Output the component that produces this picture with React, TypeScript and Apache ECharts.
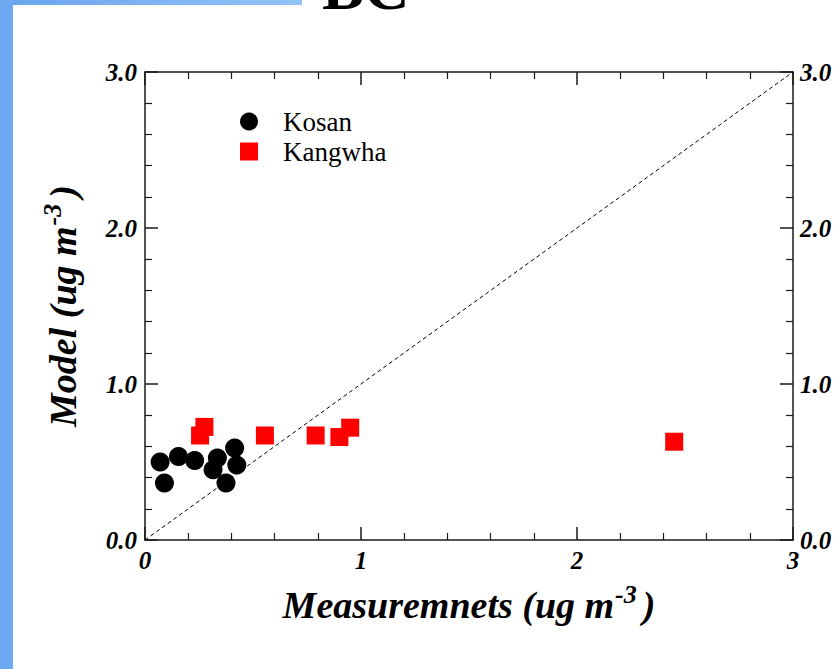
import React, { useEffect, useRef } from "react";
import * as echarts from "echarts";

// Kosan (black circles)
const kosanX = [0.07, 0.09, 0.155, 0.23, 0.335, 0.315, 0.375, 0.415, 0.425];
const kosanY = [0.5, 0.365, 0.535, 0.51, 0.525, 0.45, 0.365, 0.59, 0.48];
// Kangwha (red squares)
const kangwhaX = [0.255, 0.275, 0.555, 0.79, 0.9, 0.95, 2.45];
const kangwhaY = [0.67, 0.725, 0.67, 0.67, 0.66, 0.72, 0.63];
// 1:1 reference line
const oneToOneX = [0, 3];
const oneToOneY = [0, 3];
// tick labels
const xTickLabels = ["0", "1", "2", "3"];
const yTickLabels = ["0.0", "1.0", "2.0", "3.0"];
const seriesNames = ["Kosan", "Kangwha"];

const FONT = "'Liberation Serif', 'Times New Roman', serif";
const AXIS_COLOR = "#1a1a1a";

const tickLabelStyle = {
  fontFamily: FONT,
  fontSize: 25,
  fontWeight: "bold",
  fontStyle: "italic",
  color: "#000",
};

const titleRich = {
  t: {
    fontFamily: FONT,
    fontSize: 38,
    fontWeight: "bold",
    fontStyle: "italic",
    color: "#000",
    lineHeight: 48,
  },
  s: {
    fontFamily: FONT,
    fontSize: 26,
    fontWeight: "bold",
    fontStyle: "italic",
    color: "#000",
    lineHeight: 24,
    verticalAlign: "top",
    padding: [0, 6, 0, 1],
  },
};

function axisBase(extra: any) {
  return {
    type: "value",
    min: 0,
    max: 3,
    interval: 1,
    axisLine: { show: true, onZero: false, lineStyle: { color: AXIS_COLOR, width: 1.5 } },
    axisTick: { show: true, inside: true, length: 13, lineStyle: { color: AXIS_COLOR, width: 1.5 } },
    minorTick: { show: true, splitNumber: 5, length: 7, lineStyle: { color: AXIS_COLOR, width: 1.2 } },
    splitLine: { show: false },
    minorSplitLine: { show: false },
    ...extra,
  };
}

export default function App() {
  const ref = useRef<HTMLDivElement>(null);

  useEffect(() => {
    if (!ref.current) return;
    const chart = echarts.init(ref.current, null, { renderer: "svg" });

    const kosanData = kosanX.map((x, i) => [x, kosanY[i]]);
    const kangwhaData = kangwhaX.map((x, i) => [x, kangwhaY[i]]);
    const lineData = oneToOneX.map((x, i) => [x, oneToOneY[i]]);

    chart.setOption({
      animation: false,
      backgroundColor: "#ffffff",
      grid: { left: 145, right: 46, top: 72, bottom: 129, containLabel: false },
      graphic: [
        {
          type: "rect",
          shape: { x: 0, y: 0, width: 13, height: 669 },
          style: { fill: "#6ea8f0" },
          silent: true,
        },
        {
          type: "rect",
          shape: { x: 13, y: 0, width: 289, height: 5 },
          style: {
            fill: new echarts.graphic.LinearGradient(0, 0, 1, 0, [
              { offset: 0, color: "#6aa5ee" },
              { offset: 1, color: "#92c3f6" },
            ]),
          },
          silent: true,
        },
        {
          type: "text",
          x: 322,
          y: -12,
          style: {
            text: "BC",
            fontFamily: FONT,
            fontSize: 63,
            fontWeight: "bold",
            fill: "#000",
            verticalAlign: "middle",
            align: "left",
          },
          silent: true,
        },
      ],
      legend: {
        data: seriesNames,
        orient: "vertical",
        left: 240,
        top: 108,
        padding: 0,
        itemWidth: 18,
        itemHeight: 18,
        itemGap: 3,
        textStyle: {
          fontFamily: FONT,
          fontSize: 27,
          color: "#000",
          padding: [0, 0, 0, 20],
        },
      },
      xAxis: [
        axisBase({
          position: "bottom",
          axisLabel: {
            ...tickLabelStyle,
            margin: 8,
            formatter: (v: number) => xTickLabels[Math.round(v)],
          },
          name: "{t|Measuremnets (ug m}{s|-3}{t|)}",
          nameLocation: "middle",
          nameGap: 41,
          nameTextStyle: { rich: titleRich },
        }),
        axisBase({
          position: "top",
          axisLabel: { show: false },
        }),
      ],
      yAxis: [
        axisBase({
          position: "left",
          axisLabel: {
            ...tickLabelStyle,
            margin: 8,
            formatter: (v: number) => yTickLabels[Math.round(v)],
          },
          name: "{t|Model (ug m}{s|-3}{t|)}",
          nameLocation: "middle",
          nameRotate: 90,
          nameGap: 58,
          nameTextStyle: { rich: titleRich },
        }),
        axisBase({
          position: "right",
          axisLabel: {
            ...tickLabelStyle,
            margin: 7,
            formatter: (v: number) => yTickLabels[Math.round(v)],
          },
        }),
      ],
      series: [
        {
          type: "line",
          data: lineData,
          xAxisIndex: 0,
          yAxisIndex: 0,
          symbol: "none",
          silent: true,
          z: 1,
          lineStyle: { color: "#000", width: 1, type: [4, 3] },
        },
        {
          name: seriesNames[0],
          type: "scatter",
          data: kosanData,
          xAxisIndex: 0,
          yAxisIndex: 0,
          symbol: "circle",
          symbolSize: 19,
          z: 3,
          itemStyle: { color: "#000000", opacity: 1 },
        },
        {
          name: seriesNames[1],
          type: "scatter",
          data: kangwhaData,
          xAxisIndex: 0,
          yAxisIndex: 0,
          symbol: "rect",
          symbolSize: 18,
          z: 3,
          itemStyle: { color: "#ff0000", opacity: 1 },
        },
      ],
    });

    return () => {
      chart.dispose();
    };
  }, []);

  return (
    <div
      ref={ref}
      style={{ position: "fixed", left: 0, top: 0, width: 839, height: 669 }}
    />
  );
}
